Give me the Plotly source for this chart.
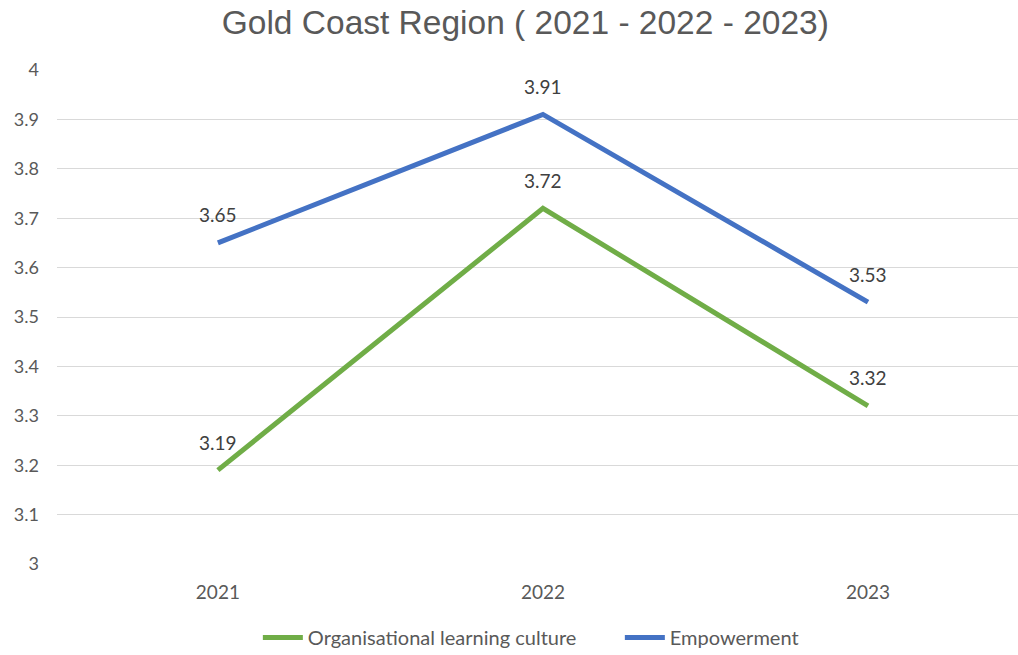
import plotly.graph_objects as go

years = ["2021", "2022", "2023"]
learning_culture = [3.19, 3.72, 3.32]
empowerment = [3.65, 3.91, 3.53]
y_ticks = [3, 3.1, 3.2, 3.3, 3.4, 3.5, 3.6, 3.7, 3.8, 3.9, 4]

GREEN = "#70AD47"
BLUE = "#4472C4"
TEXT = "#595959"
FONT = "Lato, Open Sans, sans-serif"

fig = go.Figure()
fig.add_trace(go.Scatter(x=years, y=learning_culture, mode="lines",
                         name="Organisational learning culture",
                         line=dict(color=GREEN, width=5)))
fig.add_trace(go.Scatter(x=years, y=empowerment, mode="lines",
                         name="Empowerment",
                         line=dict(color=BLUE, width=5)))

# value labels above each point (category index positions on the x axis)
for series in (learning_culture, empowerment):
    for i, v in enumerate(series):
        fig.add_annotation(x=i, y=v, xref="x", yref="y", text=f"{v:.2f}",
                           showarrow=False, yshift=28,
                           font=dict(family=FONT, size=19, color="#404040"))

fig.update_layout(
    width=1018, height=655,
    margin=dict(l=57, r=0, t=70, b=91, autoexpand=False),
    paper_bgcolor="white", plot_bgcolor="white",
    title=dict(text="Gold Coast Region ( 2021 - 2022 - 2023)",
               x=0.516, xanchor="center", y=0.966, yanchor="middle",
               font=dict(family="Liberation Sans, Arial, sans-serif", size=33.5, color=TEXT)),
    xaxis=dict(type="category", range=[-0.495, 2.4615], showgrid=False,
               showline=False, zeroline=False, ticks="", ticklabelstandoff=15,
               tickfont=dict(family=FONT, size=19, color=TEXT)),
    yaxis=dict(range=[3, 4], tickvals=y_ticks, ticktext=[f"{t:g}" for t in y_ticks],
               showgrid=True, gridcolor="#D9D9D9", gridwidth=1, zeroline=False,
               showline=False, ticks="", ticklabelstandoff=17,
               tickfont=dict(family=FONT, size=18, color=TEXT)),
    legend=dict(orientation="h", x=0.209, xanchor="left", y=-0.149, yanchor="middle",
                font=dict(family=FONT, size=20, color=TEXT), itemwidth=40,
                entrywidth=307),
    showlegend=True,
)

fig.write_html("out.html")
